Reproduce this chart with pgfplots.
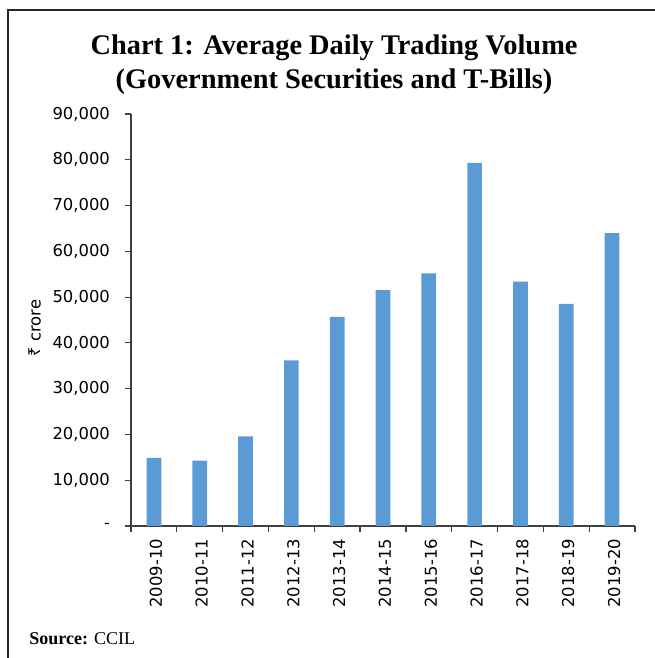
\documentclass[border=0pt]{standalone}
\usepackage{fontspec}
\usepackage{pgfplots}
\pgfplotsset{compat=1.18}
\setmainfont{Liberation Serif}
\newfontfamily\tickfont{DejaVu Sans}
\newfontfamily\rupee{Noto Sans}
\definecolor{barblue}{HTML}{5B9BD5}
\definecolor{axisgray}{HTML}{404040}

\begin{document}
\begin{tikzpicture}
\useasboundingbox (0,0) rectangle (327pt,329pt);
% frame (cut on right and bottom)
\draw[line width=0.8pt, black!85] (4pt,-1pt) -- (4pt,324pt) -- (328pt,324pt);
% title
\node[anchor=base, font=\bfseries\fontsize{14.2}{16}\selectfont] at (167pt,301.5pt) {Chart 1: Average Daily Trading Volume};
\node[anchor=base, font=\bfseries\fontsize{14.2}{16}\selectfont] at (167pt,284.5pt) {(Government Securities and T-Bills)};
% y label
\node[rotate=90, font=\tickfont\fontsize{8.2}{10}\selectfont] at (17.5pt,165pt) {{\rupee ₹} crore};
% source
\node[anchor=base west, inner sep=0pt, font=\fontsize{9}{11}\selectfont] at (14.5pt,6.5pt) {\textbf{Source:} CCIL};

\begin{axis}[
  at={(65.5pt,66pt)}, anchor=south west,
  scale only axis,
  width=252pt, height=206pt,
  ybar, bar width=7.35pt,
  xmin=-0.5, xmax=10.5,
  ymin=0, ymax=90000,
  enlargelimits=false,
  scaled y ticks=false,
  axis x line=bottom, axis y line=left,
  axis line style={-, axisgray, line width=0.6pt},
  tick align=outside,
  tick style={axisgray, line width=0.6pt},
  major tick length=3pt, minor tick length=3pt,
  xtick={0,...,10},
  major x tick style={draw=none},
  minor xtick={-0.5,0.5,1.5,2.5,3.5,4.5,5.5,6.5,7.5,8.5,9.5,10.5},
  xticklabels={2009-10,2010-11,2011-12,2012-13,2013-14,2014-15,2015-16,2016-17,2017-18,2018-19,2019-20},
  xticklabel style={rotate=90, anchor=east, font=\tickfont\fontsize{8.2}{10}\selectfont, yshift=-1pt},
  ytick={0,10000,20000,30000,40000,50000,60000,70000,80000,90000},
  yticklabels={{-},{10,000},{20,000},{30,000},{40,000},{50,000},{60,000},{70,000},{80,000},{90,000}},
  yticklabel style={font=\tickfont\fontsize{8.2}{10}\selectfont, xshift=-4pt},
]
\addplot[fill=barblue, draw=none] coordinates {
  (0, 14900)
  (1, 14300)
  (2, 19600)
  (3, 36200)
  (4, 45700)
  (5, 51500)
  (6, 55200)
  (7, 79300)
  (8, 53400)
  (9, 48500)
  (10, 64000)
};
\end{axis}
\end{tikzpicture}
\end{document}
